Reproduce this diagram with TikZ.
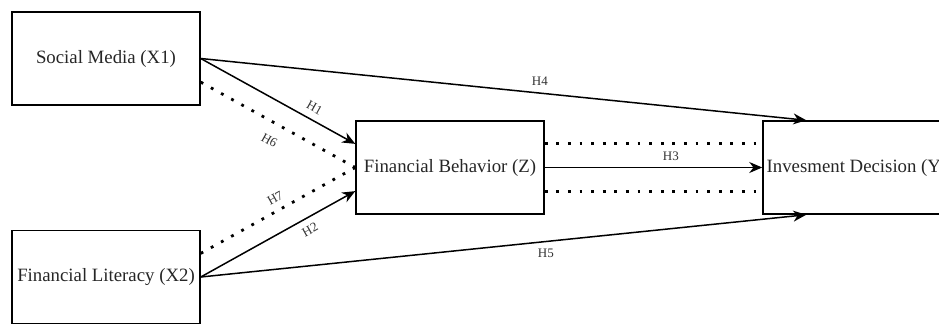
\documentclass[tikz,border=0pt]{standalone}
\usepackage{fontspec}
\setmainfont{Liberation Serif}
\usetikzlibrary{arrows.meta,calc}

\tikzset{
  varbox/.style={draw,line width=0.75pt,minimum width=94pt,minimum height=46.5pt,inner sep=0pt,
    text=black!85,font=\fontsize{9.4}{11}\selectfont},
  hyp/.style={line width=0.75pt,-{Stealth[length=6.5pt,width=5.5pt]}},
  dotline/.style={line width=1.4pt,dash pattern=on 1.4pt off 4.4pt},
  hlab/.style={text=black!80,inner sep=1pt,font=\fontsize{6.5}{7}\selectfont}
}

\begin{document}
\begin{tikzpicture}[x=0.5pt,y=-0.5pt]
  \useasboundingbox (0,0) rectangle (939,323);

  \node[varbox] (sm) at (106,58.5) {Social Media (X1)};
  \node[varbox] (fl) at (106,277) {Financial Literacy (X2)};
  \node[varbox] (fb) at (450,167.5) {Financial Behavior (Z)};
  \node[varbox] (id) at (857,167.5) {Invesment Decision (Y)};

  % direct effects
  \draw[hyp] (sm.east) -- node[hlab,pos=0.56,above=2.3pt] {H4} ([xshift=22pt]id.north west);
  \draw[hyp] (fl.east) -- node[hlab,pos=0.57,below=2.3pt] {H5} ([xshift=22pt]id.south west);
  \draw[hyp] (sm.east) -- node[hlab,pos=0.7,sloped,above=2.3pt] {H1} ($(fb.west)!0.5!(fb.north west)$);
  \draw[hyp] (fl.east) -- node[hlab,pos=0.67,sloped,below=2.3pt] {H2} ($(fb.west)!0.5!(fb.south west)$);
  \draw[hyp] (fb.east) -- node[hlab,pos=0.58,above=2.3pt] {H3} (id.west);

  % mediation
  \draw[dotline] ($(sm.east)!0.5!(sm.south east)$) -- node[hlab,pos=0.5,sloped,below=5pt] {H6} (fb.west);
  \draw[dotline] ($(fl.east)!0.5!(fl.north east)$) -- node[hlab,pos=0.52,sloped,above=2.3pt] {H7} (fb.west);
  \draw[dotline] ($(fb.east)!0.5!(fb.north east)$) -- ($(id.west)!0.5!(id.north west)$);
  \draw[dotline] ($(fb.east)!0.5!(fb.south east)$) -- ($(id.west)!0.5!(id.south west)$);

\end{tikzpicture}
\end{document}
